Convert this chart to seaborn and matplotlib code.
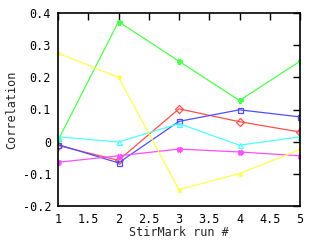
import matplotlib
matplotlib.use("Agg")
import matplotlib.pyplot as plt
import seaborn as sns
import pandas as pd

runs = [1, 2, 3, 4, 5]
series_names = ["s1", "s2", "s3", "s4", "s5", "s6"]
red = [-0.012, -0.058, 0.102, 0.062, 0.030]
green = [0.004, 0.373, 0.250, 0.128, 0.250]
blue = [-0.009, -0.066, 0.063, 0.099, 0.077]
magenta = [-0.064, -0.044, -0.023, -0.032, -0.044]
cyan = [0.015, -0.001, 0.056, -0.011, 0.015]
yellow = [0.275, 0.200, -0.149, -0.099, -0.025]

x_ticks = [1, 1.5, 2, 2.5, 3, 3.5, 4, 4.5, 5]
x_labels = ["1", "1.5", "2", "2.5", "3", "3.5", "4", "4.5", "5"]
y_ticks = [-0.2, -0.1, 0, 0.1, 0.2, 0.3, 0.4]
y_labels = ["-0.2", "-0.1", "0", "0.1", "0.2", "0.3", "0.4"]

values = [red, green, blue, magenta, cyan, yellow]
rows = []
for name, vals in zip(series_names, values):
    for r, v in zip(runs, vals):
        rows.append({"run": r, "corr": v, "series": name})
df = pd.DataFrame(rows)

sns.set_style("white")
plt.rcParams["font.family"] = ["DejaVu Sans Mono"]

colors = ["#ff4d4d", "#4dff4d", "#4d4dff", "#ff4dff", "#4dffff", "#ffff4d"]
markers = ["D", "P", "s", "X", "^", "*"]

fig = plt.figure(figsize=(3.2, 2.4), dpi=100)
ax = fig.add_axes([58/320, 1-206/240, (300-58)/320, (206-13)/240])

for name, c, m in zip(series_names, colors, markers):
    sub = df[df["series"] == name]
    mfc = "none" if m in ("s", "D", "^") else c
    sns.lineplot(data=sub, x="run", y="corr", ax=ax, color=c, lw=0.9,
                 marker=m, markersize=3.6, markerfacecolor=mfc,
                 markeredgecolor=c, markeredgewidth=0.9, legend=False)

ax.set_xlim(1, 5)
ax.set_ylim(-0.2, 0.4)
ax.set_xticks(x_ticks)
ax.set_xticklabels(x_labels)
ax.set_yticks(y_ticks)
ax.set_yticklabels(y_labels)
ax.tick_params(direction="in", length=5, width=1, top=True, right=True,
               labelsize=8.5, pad=5, colors="black")
for s in ax.spines.values():
    s.set_visible(True)
    s.set_color("black")
    s.set_linewidth(1.2)
ax.set_xlabel("StirMark run #", fontsize=8.5, labelpad=0)
ax.set_ylabel("Correlation", fontsize=8.5, labelpad=3)
ax.grid(False)
fig.savefig("out.png", dpi=100)
